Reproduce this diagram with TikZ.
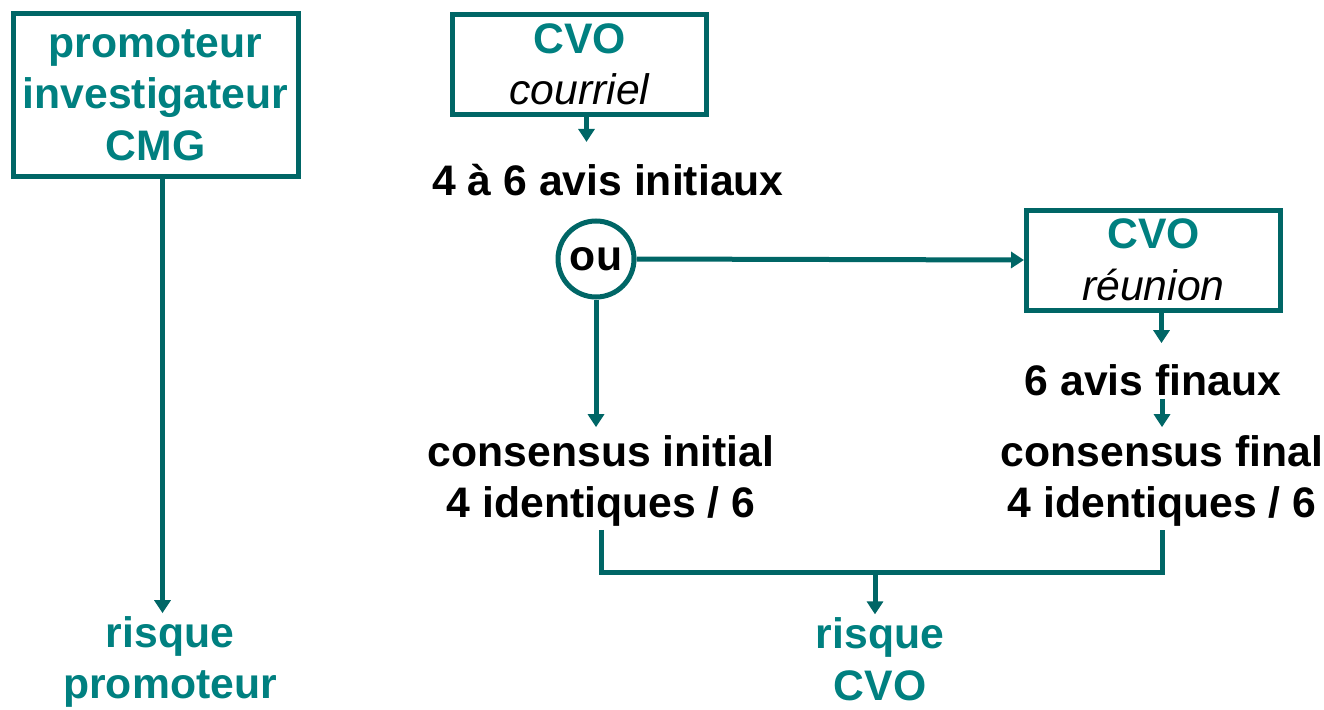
\documentclass[tikz,border=0pt]{standalone}
\usepackage{fontspec}
\setmainfont{Liberation Sans}
\usetikzlibrary{arrows.meta}
\definecolor{tealtxt}{RGB}{0,128,128}
\definecolor{tealln}{RGB}{0,102,102}

\begin{document}
\begin{tikzpicture}[x=1pt,y=-1pt,
    every node/.style={font=\fontsize{42.7}{51.5}\selectfont\bfseries,align=center,inner sep=3pt},
    box/.style={rectangle,draw=tealln,line width=5pt,text=tealtxt,minimum width=254pt,minimum height=100pt},
    ou/.style={circle,draw=tealln,line width=5pt,minimum size=76pt,inner sep=0pt},
    risk/.style={text=tealtxt},
    line/.style={draw=tealln,line width=5pt},
    arrow/.style={line,-{Triangle[length=13pt,width=16pt]}}]
    \useasboundingbox (0,0) rectangle (1324,709);
    % left column
    \node[box,minimum width=285pt,minimum height=162pt] (b1) at (155.5,95) {promoteur\\investigateur\\CMG};
    \node[risk] (r1) at (170,662) {risque\\promoteur};
    % right part
    \node[box] (c1) at (579.5,64.5) {CVO\\{\color{black}\mdseries\itshape courriel}};
    \node (a1) at (608,180) {4 à 6 avis initiaux};
    \node[ou] (o) at (596,259) {ou};
    \node[box] (c2) at (1153.5,260) {CVO\\{\color{black}\mdseries\itshape réunion}};
    \node (a2) at (1153,380) {6 avis finaux};
    \node (k1) at (601,481) {consensus initial\\4 identiques / 6};
    \node (k2) at (1162,481) {consensus final\\4 identiques / 6};
    \node[risk,inner sep=1pt] (r2) at (880,659) {risque\\CVO};
    \coordinate (j) at (875,572);
    \draw[arrow] ([xshift=7pt]b1.south) -- ([xshift=7pt]b1.south |- r1.north);
    \draw[arrow,shorten >=19pt] ([xshift=7pt]c1.south) -- ([xshift=7pt]c1.south |- a1.north);
    \draw[arrow] (o.east) -- (c2.west);
    \draw[arrow,shorten >=5pt] (o.south) -- (o.south |- k1.north);
    \draw[arrow,shorten >=18pt] ([xshift=8pt]c2.south) -- ([xshift=8pt]c2.south |- a2.north);
    \draw[arrow,shorten >=5pt] (k2.north |- a2.south) -- (k2.north);
    \draw[line] (k1.south) |- (j) -| (k2.south);
    \draw[arrow,shorten >=2pt] (j) -- (j |- r2.north);
\end{tikzpicture}
\end{document}
